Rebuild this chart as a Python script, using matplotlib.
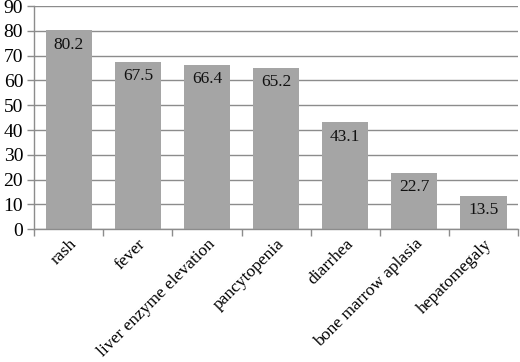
import matplotlib
matplotlib.use("Agg")
import matplotlib.pyplot as plt
import numpy as np

categories = ["rash", "fever", "liver enzyme elevation", "pancytopenia",
              "diarrhea", "bone marrow aplasia", "hepatomegaly"]
values = [80.2, 67.5, 66.4, 65.2, 43.1, 22.7, 13.5]
yticks = [0, 10, 20, 30, 40, 50, 60, 70, 80, 90]

plt.rcParams['font.family'] = ['Liberation Serif', 'DejaVu Serif']

fig = plt.figure(figsize=(5.2, 3.62), dpi=100)
ax = fig.add_axes([0.066, 0.367, 0.93, 0.616])

x = np.arange(len(categories))
bars = ax.bar(x, values, width=0.67, color="#a5a5a5", zorder=2)
for xi, v in zip(x, values):
    ax.text(xi, v - 2.6, f"{v}", ha="center", va="top", fontsize=12.5,
            color="#111111", zorder=3)

ax.set_xlim(-0.5, len(categories) - 0.5)
ax.set_ylim(0, 90)
ax.set_yticks(yticks)
ax.set_yticklabels([str(t) for t in yticks], fontsize=14)
ax.yaxis.grid(True, color="#8c8c8c", linewidth=1.0, zorder=0)
ax.set_axisbelow(True)

ax.set_xticks(x)
ax.set_xticklabels(categories, rotation=45, ha="right", rotation_mode="anchor",
                   fontsize=12.6)
ax.tick_params(axis="x", length=0, pad=5)
ax.set_xticks(np.arange(-0.5, len(categories), 1.0), minor=True)
ax.tick_params(axis="x", which="minor", length=5, color="#8c8c8c", width=1)
ax.tick_params(axis="y", length=5, color="#8c8c8c", width=1, pad=3)

for s in ["top", "right"]:
    ax.spines[s].set_visible(False)
for s in ["left", "bottom"]:
    ax.spines[s].set_color("#8c8c8c")
    ax.spines[s].set_linewidth(1.0)

fig.savefig("out.png", dpi=100)
